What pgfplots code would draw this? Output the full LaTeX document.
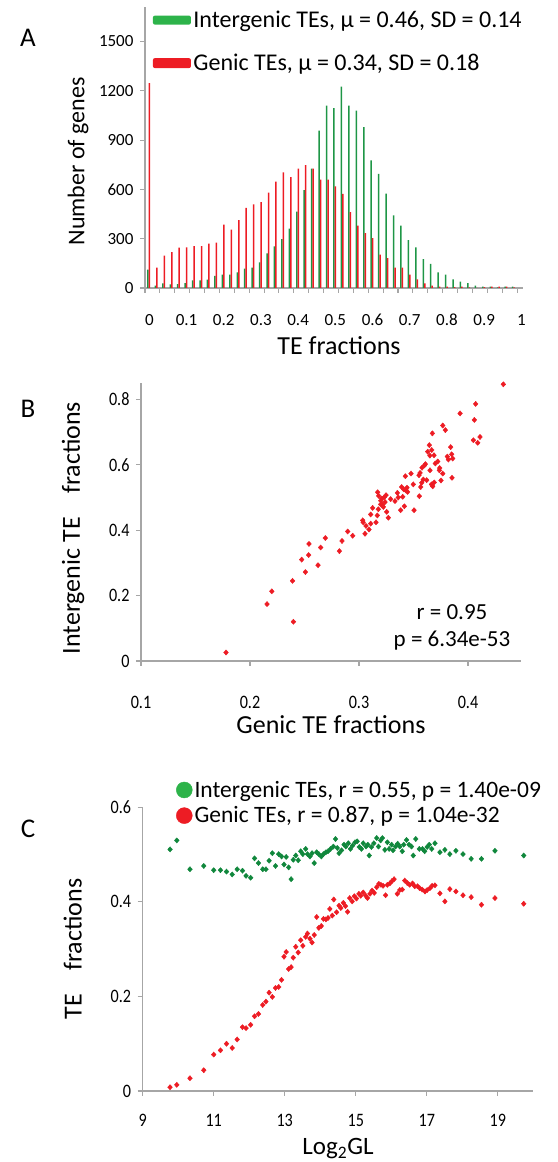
\documentclass[border=0pt]{standalone}
\usepackage{pgfplots}
\usepackage{pgfplotstable}
\pgfplotsset{compat=1.18}
\usepackage{fontspec}
\setmainfont{Carlito}
\newfontfamily\condfont[FakeStretch=0.85]{Carlito}
\definecolor{barG}{RGB}{30,150,70}
\definecolor{barR}{RGB}{237,28,36}
\definecolor{legG}{RGB}{45,179,74}
\definecolor{ptG}{RGB}{16,135,60}
\definecolor{axgray}{RGB}{166,166,166}

\pgfplotstableread{
x g r
0.01 111 1247
0.03 14 124
0.05 28 197
0.07 22 219
0.09 24 245
0.11 30 247
0.13 47 255
0.15 47 255
0.17 51 270
0.19 73 276
0.21 81 385
0.23 81 355
0.25 95 413
0.27 118 488
0.29 124 509
0.31 156 523
0.33 211 580
0.35 253 647
0.37 298 703
0.39 361 675
0.41 464 726
0.43 596 748
0.45 726 726
0.47 957 659
0.49 1109 659
0.51 1095 618
0.53 1226 572
0.55 1109 462
0.57 1080 379
0.59 979 334
0.61 776 304
0.63 695 203
0.65 574 182
0.67 442 124
0.69 379 124
0.71 292 81
0.73 247 53
0.75 176 28
0.77 146 14
0.79 95 8
0.81 81 8
0.83 53 6
0.85 38 8
0.87 30 3
0.89 14 0
0.91 8 6
0.93 8 8
0.95 3 8
0.97 8 8
0.99 8 3
}\histdata

\pgfplotstableread{
x y
0.178 0.026
0.2156 0.174
0.220 0.213
0.2398 0.120
0.239 0.245
0.2474 0.310
0.2508 0.272
0.2538 0.324
0.2541 0.358
0.2624 0.293
0.2648 0.347
0.2691 0.376
0.2820 0.336
0.2844 0.367
0.2896 0.396
0.2942 0.383
0.3034 0.430
0.3038 0.424
0.3055 0.389
0.3064 0.413
0.3092 0.402
0.3107 0.420
0.3125 0.468
0.3107 0.448
0.3156 0.424
0.3168 0.445
0.3171 0.516
0.3177 0.464
0.3199 0.479
0.3208 0.497
0.3223 0.471
0.3239 0.486
0.3248 0.507
0.3254 0.456
0.3269 0.438
0.3330 0.489
0.3352 0.514
0.3382 0.461
0.3391 0.532
0.3401 0.502
0.3416 0.473
0.3425 0.565
0.3431 0.521
0.3446 0.517
0.3477 0.573
0.3498 0.540
0.3505 0.461
0.3550 0.568
0.3553 0.504
0.3566 0.532
0.3578 0.591
0.3590 0.555
0.3609 0.602
0.3621 0.553
0.3630 0.640
0.3645 0.660
0.3651 0.583
0.3667 0.645
0.3673 0.696
0.3676 0.534
0.3688 0.629
0.3722 0.610
0.3737 0.583
0.3752 0.552
0.3768 0.720
0.3792 0.706
0.3768 0.573
0.3820 0.616
0.3841 0.654
0.3850 0.632
0.3859 0.619
0.3853 0.560
0.3927 0.757
0.4049 0.675
0.4058 0.737
0.4070 0.786
0.4089 0.667
0.4110 0.685
0.4324 0.846
0.3200 0.490
0.3230 0.500
0.3215 0.478
0.3180 0.505
0.3290 0.495
0.3360 0.500
0.3410 0.525
0.3440 0.530
0.3560 0.575
0.3575 0.545
0.3600 0.598
0.3650 0.628
0.3665 0.540
0.3700 0.604
0.3740 0.590
0.3810 0.625
0.3690 0.546
}\scatterB

\pgfplotstableread{
x y
9.77 0.511
9.96 0.530
10.33 0.469
10.72 0.476
11.00 0.467
11.19 0.467
11.36 0.464
11.52 0.458
11.66 0.469
11.81 0.466
11.91 0.455
12.04 0.451
12.15 0.492
12.26 0.482
12.38 0.469
12.47 0.469
12.56 0.487
12.65 0.503
12.74 0.476
12.83 0.501
12.91 0.496
12.98 0.479
13.04 0.495
13.11 0.473
13.18 0.448
13.24 0.489
13.31 0.498
13.38 0.488
13.45 0.507
13.51 0.501
13.59 0.512
13.64 0.501
13.71 0.496
13.77 0.503
13.83 0.482
13.90 0.505
13.96 0.501
14.03 0.496
14.09 0.501
14.16 0.505
14.22 0.507
14.29 0.512
14.37 0.517
14.43 0.533
14.48 0.514
14.53 0.503
14.60 0.509
14.67 0.521
14.72 0.517
14.79 0.524
14.85 0.512
14.91 0.519
14.98 0.526
15.04 0.528
15.10 0.516
15.16 0.512
15.21 0.524
15.29 0.517
15.34 0.521
15.38 0.498
15.44 0.516
15.51 0.524
15.59 0.535
15.64 0.517
15.70 0.530
15.75 0.535
15.82 0.510
15.89 0.526
15.94 0.512
16.01 0.521
16.05 0.509
16.12 0.517
16.18 0.523
16.24 0.517
16.31 0.507
16.35 0.521
16.43 0.531
16.50 0.521
16.57 0.517
16.62 0.498
16.69 0.533
16.79 0.512
16.88 0.512
16.94 0.507
17.01 0.516
17.07 0.521
17.14 0.512
17.23 0.524
17.37 0.505
17.51 0.510
17.65 0.501
17.82 0.508
18.02 0.501
18.25 0.491
18.54 0.491
18.92 0.508
19.73 0.498
}\interC

\pgfplotstableread{
x y
9.77 0.008
9.96 0.013
10.33 0.027
10.72 0.044
11.00 0.077
11.19 0.086
11.36 0.100
11.52 0.091
11.66 0.109
11.81 0.135
11.91 0.133
12.04 0.140
12.15 0.158
12.26 0.163
12.38 0.182
12.47 0.189
12.56 0.208
12.65 0.199
12.74 0.218
12.83 0.220
12.91 0.235
12.98 0.284
13.04 0.294
13.11 0.258
13.18 0.262
13.24 0.282
13.31 0.305
13.38 0.293
13.45 0.319
13.51 0.307
13.59 0.326
13.64 0.333
13.71 0.322
13.77 0.314
13.83 0.330
13.90 0.368
13.96 0.345
14.03 0.349
14.09 0.364
14.16 0.363
14.22 0.366
14.27 0.385
14.34 0.371
14.38 0.405
14.46 0.378
14.53 0.392
14.58 0.387
14.65 0.398
14.71 0.391
14.77 0.379
14.83 0.408
14.90 0.401
14.96 0.412
15.02 0.407
15.09 0.417
15.14 0.413
15.21 0.420
15.28 0.413
15.33 0.408
15.40 0.417
15.46 0.424
15.52 0.419
15.59 0.431
15.65 0.438
15.71 0.436
15.77 0.434
15.84 0.414
15.89 0.436
15.96 0.439
16.02 0.444
16.08 0.448
16.17 0.417
16.24 0.425
16.31 0.426
16.38 0.445
16.45 0.440
16.52 0.436
16.60 0.439
16.66 0.433
16.74 0.433
16.80 0.429
16.87 0.426
16.95 0.422
17.01 0.425
17.09 0.429
17.15 0.434
17.23 0.435
17.37 0.418
17.51 0.401
17.65 0.427
17.82 0.422
18.02 0.414
18.25 0.410
18.54 0.394
18.92 0.408
19.73 0.396
}\genicC

\pgfplotsset{
  common/.style={
    scale only axis, anchor=south west,
    axis x line*=bottom, axis y line*=left,
    axis line style={draw=axgray, line width=1.3pt},
    tick style={draw=axgray, line width=1.1pt},
    major tick length=5pt, tick align=outside,
    enlargelimits=false, clip=false,
  },
  dmark/.style={only marks, mark=diamond*, mark size=2.6pt, mark options={xscale=1.2}},
}

\begin{document}
\begin{tikzpicture}[x=1pt,y=1pt]
\useasboundingbox (0,0) rectangle (557,1162);

\node[font=\fontsize{27}{30}\selectfont] at (28,1124) {A};
\node[font=\fontsize{27}{30}\selectfont] at (28,753) {B};
\node[font=\fontsize{27}{30}\selectfont] at (28,333) {C};

% ---------------- Panel A
\begin{axis}[common,
  at={(145pt,874pt)}, width=378pt, height=281pt,
  xmin=0, xmax=1.016, ymin=0, ymax=1710,
  ybar=0pt, bar width=1.5pt,
  xtick={0,0.04,0.08,0.12,0.16,0.2,0.24,0.28,0.32,0.36,0.4,0.44,0.48,0.52,0.56,0.6,0.64,0.68,0.72,0.76,0.8,0.84,0.88,0.92,0.96,1.0},
  xticklabels={},
  extra x ticks={0.0116,0.1116,0.2116,0.3116,0.4116,0.5116,0.6116,0.7116,0.8116,0.9116,1.0116},
  extra x tick labels={0,0.1,0.2,0.3,0.4,0.5,0.6,0.7,0.8,0.9,1},
  extra x tick style={major tick length=0pt, xticklabel style={anchor=center, yshift=-32pt}},
  ytick={0,300,600,900,1200,1500},
  yticklabels={0,300,600,900,1200,1500},
  ticklabel style={font=\fontsize{17}{20}\selectfont},
  yticklabel style={anchor=east, xshift=-3pt},
  xlabel={TE fractions},
  xlabel style={font=\fontsize{26}{30}\selectfont, at={([xshift=5pt,yshift=-58pt]axis description cs:0.5,0)}, anchor=center},
  ylabel={Number of genes},
  ylabel style={font=\fontsize{24}{28}\selectfont, at={([xshift=-67pt,yshift=-14pt]axis description cs:0,0.5)}, anchor=center},
  legend style={draw=none, fill=none, at={(axis description cs:0.0204,0.995)}, anchor=north west,
    font=\fontsize{24}{28}\selectfont, row sep=20pt, inner sep=0pt, nodes={inner sep=2.5pt}},
  legend cell align=left,
]
\addplot[fill=barG, draw=none, legend image code/.code={\fill[legG, rounded corners=2pt] (0pt,-4.5pt) rectangle (38pt,4.5pt);}] table[x=x,y=g]{\histdata};
\addlegendentry{Intergenic TEs, μ = 0.46, SD = 0.14}
\addplot[fill=barR, draw=none, legend image code/.code={\fill[barR, rounded corners=2pt] (0pt,-5pt) rectangle (38pt,5pt);}] table[x=x,y=r]{\histdata};
\addlegendentry{Genic TEs, μ = 0.34, SD = 0.18}
\end{axis}

% ---------------- Panel B
\begin{axis}[common,
  at={(141pt,501pt)}, width=380pt, height=278pt,
  xmin=0.1, xmax=0.4486, ymin=0, ymax=0.85,
  xtick={0.1,0.2,0.3,0.4}, xticklabels={0.1,0.2,0.3,0.4},
  ytick={0,0.2,0.4,0.6,0.8}, yticklabels={0,0.2,0.4,0.6,0.8},
  ticklabel style={font=\condfont\fontsize{19}{22}\selectfont},
  xticklabel style={anchor=center, yshift=-36pt},
  yticklabel style={anchor=east, xshift=-3pt},
  xlabel={Genic TE fractions},
  xlabel style={font=\fontsize{26}{30}\selectfont, at={([yshift=-64pt]axis description cs:0.5,0)}, anchor=center},
  ylabel={Intergenic TE\ \ \ \ fractions},
  ylabel style={font=\fontsize{26}{30}\selectfont, at={([xshift=-68pt,yshift=-6pt]axis description cs:0,0.5)}, anchor=center},
]
\addplot[dmark, color=barR] table[x=x,y=y]{\scatterB};
\node[font=\fontsize{23}{26}\selectfont] at (axis cs:0.3853,0.1498) {r = 0.95};
\node[font=\fontsize{23}{26}\selectfont] at (axis cs:0.3853,0.0611) {p = 6.34e-53};
\end{axis}

% ---------------- Panel C
\begin{axis}[common,
  at={(142.7pt,71pt)}, width=390.6pt, height=283.7pt,
  xmin=9, xmax=20, ymin=0, ymax=0.6,
  xtick={9,11,13,15,17,19}, xticklabels={9,11,13,15,17,19},
  ytick={0,0.2,0.4,0.6}, yticklabels={0,0.2,0.4,0.6},
  ticklabel style={font=\condfont\fontsize{19}{22}\selectfont},
  xticklabel style={anchor=center, yshift=-24pt},
  yticklabel style={anchor=east, xshift=-3pt},
  xlabel={Log\textsubscript{2}GL},
  xlabel style={font=\fontsize{25}{29}\selectfont, at={([yshift=-58pt]axis description cs:0.5,0)}, anchor=center},
  ylabel={TE\ \ \ \ fractions},
  ylabel style={font=\fontsize{26}{30}\selectfont, at={([xshift=-70pt]axis description cs:0,0.5)}, anchor=center},
  legend style={draw=none, fill=none, at={(axis description cs:0.085,1.1)}, anchor=north west,
    font=\fontsize{23.5}{27}\selectfont, row sep=4pt, inner sep=0pt, nodes={inner sep=2pt}},
  legend cell align=left,
]
\addplot[dmark, color=ptG, legend image code/.code={\fill[legG] (8pt,0pt) circle (8pt);}] table[x=x,y=y]{\interC};
\addlegendentry{Intergenic TEs, r = 0.55, p = 1.40e-09}
\addplot[dmark, color=barR, legend image code/.code={\fill[barR] (8pt,0pt) circle (8pt);}] table[x=x,y=y]{\genicC};
\addlegendentry{Genic TEs, r = 0.87, p = 1.04e-32}
\end{axis}
\end{tikzpicture}
\end{document}
